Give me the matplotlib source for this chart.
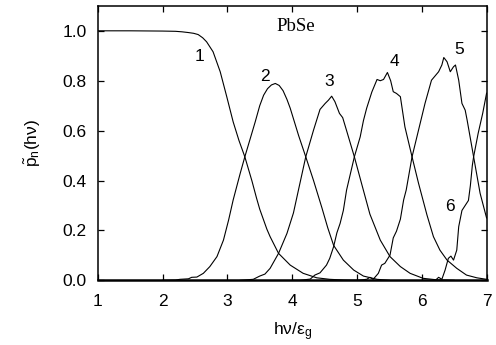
import matplotlib
matplotlib.use("Agg")
import matplotlib.pyplot as plt

plt.rcParams['font.family'] = ['Liberation Sans', 'DejaVu Sans']
plt.rcParams['mathtext.fontset'] = 'custom'
plt.rcParams['mathtext.rm'] = 'Liberation Sans'
plt.rcParams['mathtext.it'] = 'Liberation Sans:italic'

# Photon-energy axis ticks and probability ticks
x_ticks = [1, 2, 3, 4, 5, 6, 7]
y_ticks = [0.0, 0.2, 0.4, 0.6, 0.8, 1.0]
y_tick_labels = ["0.0", "0.2", "0.4", "0.6", "0.8", "1.0"]

# p_n(hv) for n = 1..6
x1 = [1.0, 1.5, 2.0, 2.2, 2.3, 2.4, 2.48, 2.55, 2.62, 2.68, 2.78, 2.89, 2.99,
      3.09, 3.18, 3.27, 3.38, 3.45, 3.50, 3.61, 3.66, 3.79, 3.97, 4.17, 4.38,
      4.58, 4.8, 5.0]
y1 = [1.0, 1.0, 0.999, 0.998, 0.996, 0.993, 0.99, 0.985, 0.972, 0.956, 0.916,
      0.836, 0.737, 0.635, 0.56, 0.495, 0.398, 0.33, 0.285, 0.205, 0.175,
      0.108, 0.061, 0.028, 0.01, 0.004, 0.001, 0.0]

x2 = [2.0, 2.2, 2.27, 2.40, 2.45, 2.53, 2.63, 2.73, 2.84, 2.94, 3.02, 3.09,
      3.20, 3.27, 3.35, 3.43, 3.50, 3.56, 3.62, 3.68, 3.74, 3.80, 3.86, 3.92,
      3.97, 4.10, 4.21, 4.33, 4.46, 4.55, 4.64, 4.79, 4.95, 5.10, 5.31, 5.5]
y2 = [0.0, 0.001, 0.004, 0.006, 0.012, 0.013, 0.028, 0.055, 0.095, 0.161,
      0.242, 0.322, 0.43, 0.495, 0.565, 0.635, 0.70, 0.742, 0.768, 0.783,
      0.789, 0.781, 0.76, 0.725, 0.69, 0.58, 0.495, 0.40, 0.29, 0.21, 0.14,
      0.081, 0.041, 0.017, 0.004, 0.0]

x3 = [3.2, 3.40, 3.50, 3.58, 3.66, 3.79, 3.92, 4.02, 4.10, 4.21, 4.33, 4.43,
      4.51, 4.56, 4.61, 4.66, 4.73, 4.78, 4.84, 4.96, 5.07, 5.20, 5.36, 5.51,
      5.67, 5.82, 6.02, 6.23, 6.5]
y3 = [0.0, 0.004, 0.017, 0.025, 0.048, 0.108, 0.188, 0.27, 0.365, 0.495,
      0.602, 0.685, 0.709, 0.722, 0.738, 0.716, 0.669, 0.652, 0.60, 0.495,
      0.389, 0.265, 0.161, 0.095, 0.055, 0.028, 0.008, 0.002, 0.0]

x4 = [4.0, 4.12, 4.28, 4.35, 4.43, 4.53, 4.58, 4.64, 4.69, 4.74, 4.79, 4.84,
      4.96, 5.05, 5.10, 5.15, 5.23, 5.31, 5.36, 5.41, 5.47, 5.52, 5.56, 5.61,
      5.67, 5.74, 5.85, 5.95, 6.08, 6.18, 6.28, 6.39, 6.54, 6.69, 6.85, 7.0]
y4 = [0.0, 0.0, 0.005, 0.021, 0.03, 0.061, 0.088, 0.135, 0.19, 0.228, 0.28,
      0.362, 0.495, 0.575, 0.64, 0.69, 0.755, 0.805, 0.80, 0.805, 0.833, 0.80,
      0.756, 0.749, 0.736, 0.615, 0.495, 0.389, 0.262, 0.175, 0.121, 0.081,
      0.048, 0.021, 0.01, 0.004]

x5 = [5.0, 5.15, 5.20, 5.25, 5.33, 5.38, 5.43, 5.51, 5.56, 5.61, 5.67, 5.72,
      5.76, 5.85, 5.95, 6.05, 6.15, 6.26, 6.31, 6.34, 6.39, 6.44, 6.49, 6.52,
      6.57, 6.62, 6.67, 6.70, 6.80, 6.90, 7.0]
y5 = [0.0, 0.004, 0.012, 0.004, 0.028, 0.061, 0.068, 0.101, 0.17, 0.197,
      0.245, 0.322, 0.362, 0.495, 0.602, 0.709, 0.802, 0.836, 0.863, 0.893,
      0.876, 0.836, 0.856, 0.863, 0.802, 0.709, 0.682, 0.642, 0.495, 0.349,
      0.25]

x6 = [6.0, 6.21, 6.26, 6.31, 6.36, 6.41, 6.45, 6.49, 6.54, 6.57, 6.62, 6.67,
      6.72, 6.75, 6.78, 6.80, 6.87, 6.94, 7.0]
y6 = [0.0, 0.0, 0.012, 0.004, 0.041, 0.088, 0.097, 0.081, 0.121, 0.215, 0.28,
      0.30, 0.32, 0.38, 0.46, 0.495, 0.589, 0.669, 0.75]

series = [(x1, y1), (x2, y2), (x3, y3), (x4, y4), (x5, y5), (x6, y6)]

# Curve labels
label_text = ["1", "2", "3", "4", "5", "6"]
label_x = [2.57, 3.58, 4.57, 5.58, 6.58, 6.43]
label_y = [0.896, 0.816, 0.796, 0.876, 0.925, 0.295]

fig = plt.figure(figsize=(4.96, 3.45), dpi=100)
ax = fig.add_axes([0.197, 0.1875, 0.784, 0.7955])

for xs, ys in series:
    ax.plot(xs, ys, color='black', linewidth=0.8, solid_joinstyle='round')

for t, lx, ly in zip(label_text, label_x, label_y):
    ax.text(lx, ly, t, ha='center', va='center', fontsize=12.5)

ax.text(4.06, 1.016, "PbSe", ha='center', va='center', fontsize=13.5,
        family=['Liberation Serif', 'DejaVu Serif'])

ax.set_xlim(1, 7)
ax.set_ylim(0, 1.1)
ax.set_xticks(x_ticks)
ax.set_yticks(y_ticks)
ax.set_yticklabels(y_tick_labels)
ax.tick_params(direction='in', top=True, right=True, length=4.5, width=0.9,
               labelsize=12.5)
ax.tick_params(axis='y', pad=8)
ax.tick_params(axis='x', pad=10)
for s in ax.spines.values():
    s.set_linewidth(1.1)
ax.spines['bottom'].set_linewidth(1.8)

ax.set_xlabel("hν/ε$_{\\mathrm{g}}$", fontsize=12.5, labelpad=8)
ax.set_ylabel("$\\tilde{\\mathrm{p}}_{\\mathrm{n}}$(hν)", fontsize=12.5,
              labelpad=14)

fig.savefig("out.png", dpi=100)
